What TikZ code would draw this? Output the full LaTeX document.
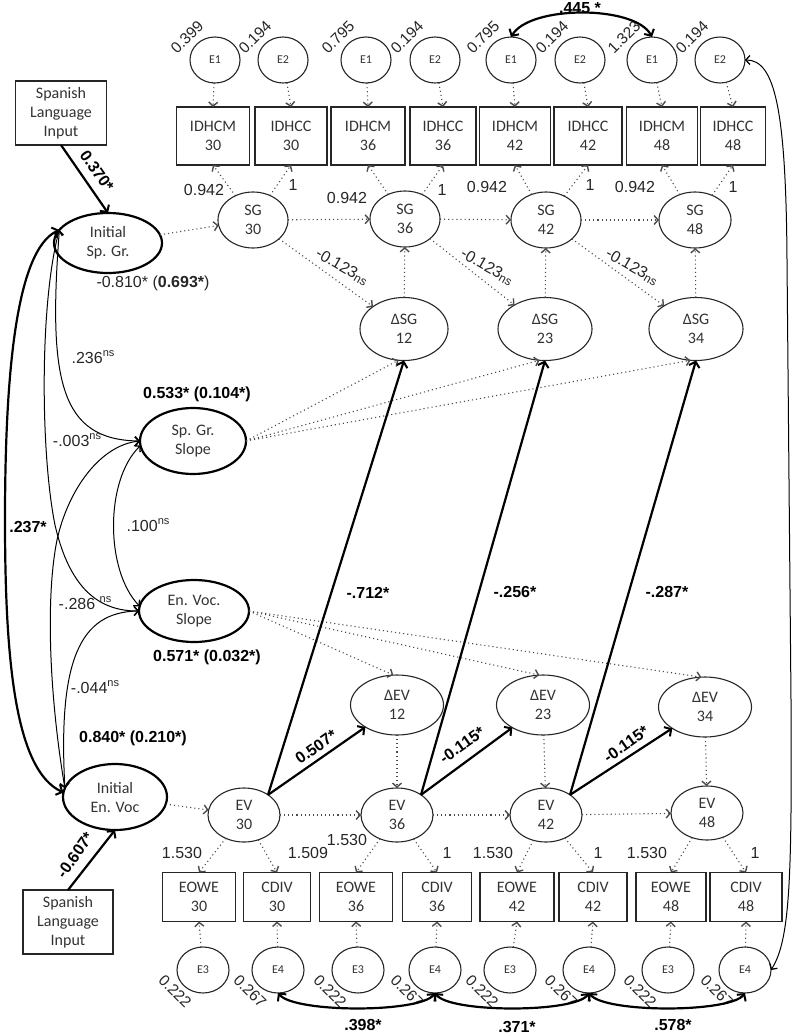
\documentclass[tikz,border=0pt]{standalone}
\usepackage{fontspec}
\setmainfont{Liberation Sans}
\newfontfamily\carl{Carlito}
\usetikzlibrary{arrows.meta,shapes.geometric}
\newcommand{\nsu}{\raisebox{0.45em}{\fontsize{11}{11}\selectfont ns}}
\newcommand{\nsd}{\raisebox{-0.1em}{\fontsize{12}{12}\selectfont ns}}
\begin{document}
\begin{tikzpicture}[x=1pt,y=-1pt,
  every node/.style={inner sep=0pt,outer sep=0pt},
  nt/.style={font=\carl\fontsize{16}{19}\selectfont,align=center,text=black!80},
  obs/.style={nt,draw=black!85,rectangle,line width=1.1pt},
  lat/.style={nt,draw=black!85,ellipse,line width=1.1pt},
  big/.style={nt,draw=black,ellipse,line width=2.2pt},
  err/.style={draw=black!85,ellipse,line width=1.1pt,minimum width=50,minimum height=46,font=\carl\fontsize{12}{14}\selectfont,text=black!80},
  lab/.style={font=\fontsize{16}{18}\selectfont,text=black!85},
  slab/.style={font=\fontsize{15.5}{17}\selectfont,text=black!85},
  blab/.style={font=\bfseries\fontsize{16}{18}\selectfont,text=black},
  dotl/.style={draw=black!70,line width=1.1pt,dash pattern=on 1.1pt off 3pt},
  tip/.style={-{Straight Barb[length=4pt,width=9pt,line width=1.4pt]}},
  tips/.style={{Straight Barb[length=4pt,width=9pt,line width=1.3pt]}-{Straight Barb[length=4pt,width=9pt,line width=1.3pt]}},
  ttip/.style={-{Straight Barb[length=5pt,width=11pt,line width=2pt]}},
  ttips/.style={{Straight Barb[length=5pt,width=11pt,line width=2pt]}-{Straight Barb[length=5pt,width=11pt,line width=2pt]}},
  thk/.style={draw=black,line width=2.2pt},
  thn/.style={draw=black,line width=1pt},
]
\path[use as bounding box] (0,0) rectangle (800,1034);

% ---------- top error terms and indicators
\foreach \n/\x/\lb/\v in {a/215/E1/0.399, b/283/E2/0.194, c/366/E1/0.795, d/435/E2/0.194, e/511/E1/0.795, f/580/E2/0.194, g/652/E1/1.323, h/720/E2/0.194}{
  \node[err] (T\n) at (\x,60) {\lb};
  \node[slab,rotate=45] (TL\n) at (\x-28,37) {\v};
}
\foreach \n/\x/\w/\lb/\nb in {a/213/73/IDHCM/30, b/291/72/IDHCC/30, c/368/74/IDHCM/36, d/443/66/IDHCC/36, e/515/71/IDHCM/42, f/588/68/IDHCC/42, g/662/71/IDHCM/48, h/733/65/IDHCC/48}{
  \node[obs,minimum width=\w,minimum height=58] (B\n) at (\x,136) {\lb\\\nb};
  \draw[dotl,tip] (T\n) -- (B\n.north);
}

% ---------- SG latent chain
\node[lat,minimum width=70,minimum height=56] (SG1) at (253,220) {SG\\30};
\node[lat,minimum width=70,minimum height=56] (SG2) at (405,219) {SG\\36};
\node[lat,minimum width=70,minimum height=56] (SG3) at (546,220) {SG\\42};
\node[lat,minimum width=72,minimum height=56] (SG4) at (695,220) {SG\\48};
\node[lat,minimum width=88,minimum height=63] (D1) at (404,329) {ΔSG\\12};
\node[lat,minimum width=94,minimum height=63] (D2) at (545,329) {ΔSG\\23};
\node[lat,minimum width=94,minimum height=63] (D3) at (696,329) {ΔSG\\34};

\foreach \s/\m/\c/\xa/\ya/\xb/\yb in {SG1/a/b/204/190/293/185, SG2/c/d/347/198/442/190, SG3/e/f/487/187/590/185, SG4/g/h/635/187/733/187}{
  \draw[dotl,tip] (\s) -- (B\m.south);
  \draw[dotl,tip] (\s) -- (B\c.south);
  \node[lab] (L\s a) at (\xa,\ya) {0.942};
  \node[lab] (L\s b) at (\xb,\yb) {1};
}
\draw[dotl,tip] (SG1) -- (SG2);
\draw[dotl,tip] (SG2) -- (SG3);
\draw[dotl,tip] (SG3) -- (SG4);
\draw[dotl,tip] (SG1) -- (D1);
\draw[dotl,tip] (SG2) -- (D2);
\draw[dotl,tip] (SG3) -- (D3);
\draw[dotl,tip] (D1) -- (SG2);
\draw[dotl,tip] (D2) -- (SG3);
\draw[dotl,tip] (D3) -- (SG4);
\node[lab,rotate=-30] (c1) at (342,267) {-0.123\nsd};
\node[lab,rotate=-30] (c2) at (487,267) {-0.123\nsd};
\node[lab,rotate=-30] (c3) at (632,267) {-0.123\nsd};

% ---------- EV latent chain
\node[lat,minimum width=72,minimum height=54] (EV1) at (244,815) {EV\\30};
\node[lat,minimum width=72,minimum height=54] (EV2) at (397,815) {EV\\36};
\node[lat,minimum width=72,minimum height=54] (EV3) at (546,815) {EV\\42};
\node[lat,minimum width=72,minimum height=54] (EV4) at (707,813) {EV\\48};
\node[lat,minimum width=93,minimum height=60] (V1) at (397,705) {ΔEV\\12};
\node[lat,minimum width=93,minimum height=60] (V2) at (543,705) {ΔEV\\23};
\node[lat,minimum width=93,minimum height=60] (V3) at (705,707) {ΔEV\\34};
\draw[dotl,tip] (EV1) -- (EV2);
\draw[dotl,tip] (EV2) -- (EV3);
\draw[dotl,tip] (EV3) -- (EV4);
\draw[dotl,tip] (V1) -- (EV2);
\draw[dotl,tip] (V2) -- (EV3);
\draw[dotl,tip] (V3) -- (EV4);

% ---------- bottom indicators and errors
\foreach \n/\x/\w/\lb/\nb in {a/199/73/EOWE/30, b/277/67/CDIV/30, c/356/73/EOWE/36, d/437/69/CDIV/36, e/517/74/EOWE/42, f/593/68/CDIV/42, g/671/70/EOWE/48, h/746/72/CDIV/48}{
  \node[obs,minimum width=\w,minimum height=49] (O\n) at (\x,897) {\lb\\\nb};
}
\foreach \n/\x/\lb/\v in {a/203/E3/0.222, b/278/E4/0.267, c/358/E3/0.222, d/435/E4/0.267, e/510/E3/0.222, f/589/E4/0.267, g/668/E3/0.222, h/745/E4/0.267}{
  \node[err,minimum width=52] (U\n) at (\x,970) {\lb};
  \node[slab,rotate=-45] (UL\n) at (\x-28,991) {\v};
  \draw[dotl,tip] (U\n) -- (O\n.south);
}
\foreach \s/\m/\c/\xa/\ya/\ta/\xb/\yb/\tb in {EV1/a/b/182/853/1.530/308/853/1.509, EV2/c/d/347/840/1.530/447/853/1, EV3/e/f/493/853/1.530/598/853/1, EV4/g/h/647/853/1.530/755/853/1}{
  \draw[dotl,tip] (\s) -- (O\m.north);
  \draw[dotl,tip] (\s) -- (O\c.north);
  \node[lab] (M\s a) at (\xa,\ya) {\ta};
  \node[lab] (M\s b) at (\xb,\yb) {\tb};
}

% ---------- growth factors
\node[obs,minimum width=91,minimum height=64] (SLI1) at (61,113) {Spanish\\Language\\Input};
\node[obs,minimum width=90,minimum height=64] (SLI2) at (68,922) {Spanish\\Language\\Input};
\node[big,minimum width=108,minimum height=60] (ISG) at (108,243) {Initial\\Sp. Gr.};
\node[big,minimum width=106,minimum height=66] (SSG) at (193,441) {Sp. Gr.\\Slope};
\node[big,minimum width=110,minimum height=62] (EVS) at (194,611) {En. Voc.\\Slope};
\node[big,minimum width=104,minimum height=66] (IEV) at (115,797) {Initial\\En. Voc};

\draw[thk,ttip] (SLI1.south) -- (ISG.north);
\node[blab,rotate=-55] (l370) at (97,171) {0.370*};
\draw[thk,ttip] (SLI2.north) -- (IEV.south);
\node[blab,rotate=55] (l607) at (75,855) {-0.607*};

\draw[dotl,tip] (ISG) -- (SG1);
\draw[dotl,tip] (IEV) -- (EV1);
\draw[dotl,tip] (SSG.east) -- (D1.-100);
\draw[dotl,tip] (SSG.east) -- (D2.-100);
\draw[dotl,tip] (SSG.east) -- (D3.-100);
\draw[dotl,tip] (EVS.east) -- (V1.97);
\draw[dotl,tip] (EVS.east) -- (V2.97);
\draw[dotl,tip] (EVS.east) -- (V3.97);

\node[lab] (vISG) at (153,283) {-0.810* (\textbf{0.693*})};
\node[blab] (vSSG) at (197,394) {0.533* (0.104*)};
\node[blab] (vEVS) at (207,657) {0.571* (0.032*)};
\node[blab] (vIEV) at (133,738) {0.840* (0.210*)};

% ---------- coupling paths
\draw[thk,ttip] (EV1.40) -- (D1.south);
\draw[thk,ttip] (EV2.40) -- (D2.south);
\draw[thk,ttip] (EV3.40) -- (D3.south);
\draw[thk,ttip] (EV1.40) -- (V1);
\draw[thk,ttip] (EV2.40) -- (V2);
\draw[thk,ttip] (EV3.40) -- (V3);
\node[blab] (k1) at (368,593) {-.712*};
\node[blab] (k2) at (515,592) {-.256*};
\node[blab] (k3) at (667,592) {-.287*};
\node[blab,rotate=35] (a1) at (316,747) {0.507*};
\node[blab,rotate=35] (a2) at (462,745) {-0.115*};
\node[blab,rotate=35] (a3) at (626,744) {-0.115*};

% ---------- covariances among growth factors
\coordinate (pI) at (ISG.165);
\coordinate (pE) at (IEV.170);
\draw[thk,ttips] (pI) .. controls (15,250) and (5,380) .. (5,520) .. controls (5,660) and (15,770) .. (IEV.175);
\draw[thn,tips] (pI) .. controls (48,380) and (60,440) .. (SSG.west);
\draw[thn,tips] (pI) .. controls (40,300) and (40,450) .. (55,525) .. controls (70,590) and (100,611) .. (EVS.west);
\draw[thn,tips] (pE) .. controls (50,700) and (45,600) .. (57,540) .. controls (68,490) and (100,445) .. (SSG.west);
\draw[thn,tips] (pE) .. controls (58,660) and (80,612) .. (EVS.west);
\draw[thn,tips] (SSG.185) .. controls (105,480) and (105,570) .. (EVS.175);
\node[lab] (r1) at (93,357) {.236\nsu};
\node[lab] (r2) at (77,440) {-.003\nsu};
\node[blab] (r3) at (28,527) {.237*};
\node[lab] (r4) at (148,525) {.100\nsu};
\node[lab] (r5) at (85,603) {-.286 \nsu};
\node[lab] (r6) at (95,687) {-.044\nsu};

% ---------- residual covariances
\draw[thk,ttips] (Te.north) .. controls (530,5) and (635,5) .. (Tg.north);
\node[blab] (q1) at (580,8) {.445 *};
\draw[thk,ttips] (Ub.south) .. controls (295,1013) and (420,1013) .. (Ud.south);
\draw[thk,ttips] (Ud.south) .. controls (450,1013) and (575,1013) .. (Uf.south);
\draw[thk,ttips] (Uf.south) .. controls (605,1013) and (730,1013) .. (Uh.south);
\node[blab] (q2) at (363,1025) {.398*};
\node[blab] (q3) at (517,1027) {.371*};
\node[blab] (q4) at (673,1025) {.578*};
\draw[thn,tips] (Th.east) .. controls (775,60) and (786,110) .. (787,260) -- (791,700) .. controls (792,880) and (790,940) .. (Uh.east);
\end{tikzpicture}
\end{document}
